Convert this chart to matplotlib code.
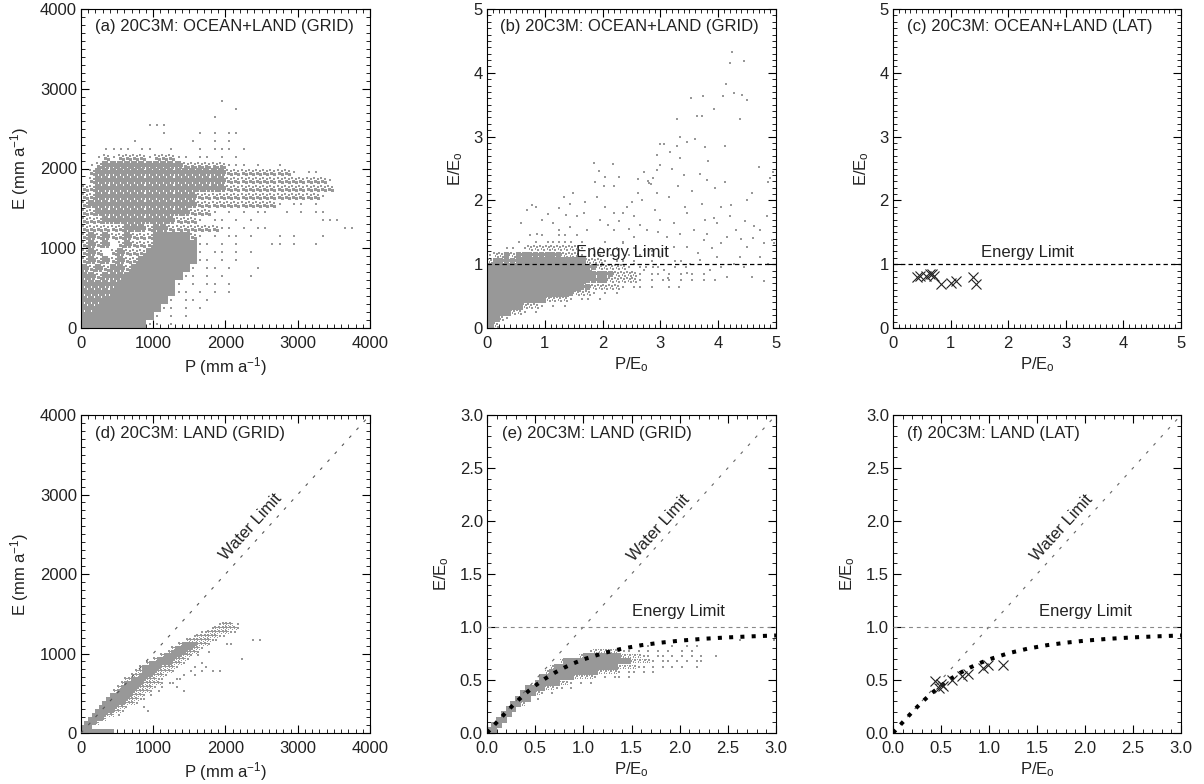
import matplotlib
matplotlib.use('Agg')
import matplotlib.pyplot as plt
from matplotlib.path import Path
from matplotlib.ticker import MultipleLocator, FormatStrFormatter

plt.rcParams['font.family'] = ['Liberation Sans', 'DejaVu Sans']
plt.rcParams['mathtext.fontset'] = 'custom'
plt.rcParams['mathtext.rm'] = 'Liberation Sans'
plt.rcParams['mathtext.it'] = 'Liberation Sans:italic'
plt.rcParams['mathtext.default'] = 'regular'

GRAY = '#989898'
INK = '#222222'

# point clouds read off the picture as occupancy maps
# '#' solid, '%' dense, '+' medium, 'o' sparse; first row is the top
# (a) P vs E, cells of 100 mm x 100 mm
A_ROWS = [
    "                   o",
    "                     o",
    "                  o",
    "         ooo",
    "           o    o o oo",
    "       o       o  o o",
    "   oooo oo  o   o ooo o",
    "  o+o++++o+++oo oo o o",
    " o+%%%%%%%%%%%++++++ooo o  o",
    " +%%%%%%%%%%%%%%%%%%+++++++++o oo",
    " +%%%%%%%%%%%%%%%%%%++++++++++++++o",
    "++%%%%%%%%%%%%%%%%%%+++++++++++++++",
    "++%%%%%%%%%%%%%%+++++++++++++++++o",
    "+%%%%%%%%%%%%%%%+++++++++++o oo o",
    "++%%%%%%%%%%%%%+++o o o oo  o o oo",
    "+++%%%%%%%%%%+++o oo o o         ooo",
    "++++++%%%+%%+++++++oo o oo          oo",
    "+%+%++%+++#####+o o oo o   o o   o",
    "+%+% +%+++######oo o o    oo o  o",
    "+%+ +%+++#######o oo o o",
    "+%+%+%++########oo o o",
    "%+%+%%+########o oo o   o",
    "%%+%%%########oo o o   o",
    "%%%%%########o o oo o",
    "%%%%#########oo o o o",
    "%%%#########o oo o",
    "%%#########oo o o",
    "##########o o o",
    "#########oo o",
]

# (b) P/Eo vs E/Eo, cells of 0.1 x 0.1
B_ROWS = [
    "       o o  oo o",
    "     o  o ooooo o   o  o",
    "   oo o+++++++++o oo  o  o",
    "o++%+%%%%%%%%+++o oo o  o o o",
    "+%%%%%###########+++o oo o  o   o",
    "#################%%+++++o oo o  o o",
    "##################%%%%++++o oo o o o o",
    "#################%%%%+++++o o oo o o   o",
    "#######%##%#####%%+++++o oo o  o",
    "##%####%######%+++o o o",
    "#%##%#####++++o oo o",
    "%#%###+++o o o",
    "####++o o",
    "##+o",
    "#+",
]
# scattered points of (b) outside the cloud
B_SCAT_X = [4.24, 4.20, 4.44, 4.13, 4.28, 4.41, 4.50, 4.08, 3.53, 3.74, 3.92, 3.64, 3.72, 4.38, 3.28,
            3.34, 3.46, 3.60, 3.00, 3.06, 4.12, 3.17, 3.28, 3.78, 3.34, 2.94, 1.85, 2.18, 3.00, 3.82,
            2.94, 2.88, 2.80, 2.78, 2.83, 2.61, 2.71, 1.94, 2.05, 2.29, 1.87, 2.03, 2.19, 3.31, 3.69,
            3.81, 3.95, 4.11, 4.70, 4.90, 4.86, 4.58, 4.49, 2.94, 2.62, 1.49, 1.33, 1.70, 1.44, 2.50,
            2.42, 0.78, 0.85, 3.43, 3.72, 4.04, 4.23, 2.19, 2.35, 3.46, 3.78, 3.92, 3.98, 1.56, 1.37,
            1.67, 0.69, 1.15, 1.24, 1.44, 1.73, 3.00, 3.23, 3.34, 3.58, 4.47, 4.73, 4.40, 4.61, 4.79,
            4.93, 0.58, 0.87, 2.54, 2.71, 2.88, 3.06, 3.14, 3.32, 3.46, 3.52, 3.69, 3.75, 3.86, 3.98,
            4.15, 4.27, 4.38, 4.58, 4.79, 4.73, 4.87, 4.96, 4.50, 4.04, 3.75, 3.23, 3.00, 2.71, 2.36,
            2.54, 2.19, 2.77, 3.11, 3.46, 3.81, 4.15, 4.30, 1.95, 2.10, 2.28, 2.55, 2.65, 2.90, 2.05,
            1.90, 2.68, 3.15, 3.55, 3.40, 3.20, 1.05, 0.95, 1.25, 2.45, 2.95, 3.65, 4.05, 4.45, 3.35,
            2.85, 3.90, 4.62, 4.85, 4.20, 4.95]
B_SCAT_Y = [4.33, 4.15, 4.18, 3.82, 3.69, 3.65, 3.57, 3.63, 3.60, 3.64, 3.43, 3.32, 3.32, 3.28, 3.28,
            3.00, 2.92, 2.96, 2.89, 2.88, 2.85, 2.76, 2.85, 2.83, 2.66, 2.71, 2.59, 2.57, 2.55, 2.62,
            2.48, 2.35, 2.27, 2.31, 2.25, 2.33, 2.45, 2.46, 2.37, 2.37, 2.29, 2.23, 2.22, 2.23, 2.42,
            2.32, 2.20, 2.29, 2.52, 2.35, 2.29, 2.12, 2.00, 2.11, 2.12, 2.12, 2.06, 1.98, 1.95, 1.98,
            1.90, 1.93, 1.90, 1.90, 1.95, 1.90, 1.93, 1.81, 1.81, 1.81, 1.70, 1.72, 1.64, 1.75, 1.77,
            1.81, 1.85, 1.64, 1.54, 1.59, 1.54, 1.69, 1.64, 1.48, 1.54, 1.67, 1.54, 1.39, 1.41, 1.33,
            1.38, 1.64, 1.48, 1.01, 0.91, 0.96, 0.91, 0.78, 0.65, 0.86, 1.01, 1.07, 0.75, 0.91, 1.12,
            0.80, 1.01, 1.12, 0.80, 0.73, 1.12, 1.01, 1.33, 1.27, 1.33, 1.38, 1.27, 1.12, 1.22, 1.33,
            1.43, 1.54, 1.54, 1.43, 1.27, 1.48, 1.43, 1.54, 1.70, 1.62, 1.68, 1.75, 1.62, 1.85, 1.90,
            2.05, 2.00, 2.05, 2.15, 2.40, 2.50, 1.78, 1.70, 1.88, 1.55, 1.50, 1.18, 0.95, 0.95, 1.05,
            1.20, 1.25, 1.60, 1.75, 1.75, 2.45]

# (c) zonal means
C_X = [0.41, 0.47, 0.58, 0.64, 0.67, 0.72, 0.84, 1.01, 1.10, 1.39, 1.44]
C_Y = [0.80, 0.81, 0.81, 0.84, 0.85, 0.81, 0.69, 0.70, 0.74, 0.80, 0.69]

# (d) land P vs E, cells of 50 mm x 50 mm
D_ROWS = [
    "                                      o+++ o",
    "                                    o++++++o",
    "                                 oo++++++oo",
    "                               o++++++oo",
    "                             +++++++oo         o o",
    "                           +####+++o    oo",
    "                         +#####++o",
    "                        +####+++o  o",
    "                      +#####++o o",
    "                    +#####+++o              o",
    "                  +######+++o    o",
    "                +#####++++o    o  o",
    "               ++####++++o    o  o  o o",
    "              ++####+++o    o  o",
    "            ++####+++oo   oo",
    "           +#####+++++o oo",
    "          +#####++++o o   o",
    "         +#####++++o o      o",
    "        ######+++o o",
    "       ######+++oo",
    "      ######+++o",
    "     #####++o    o",
    "    #####++o      o",
    "   ####++ o",
    "  ####+",
    " ###+",
    "###",
    "#########",
]

# (e) land P/Eo vs E/Eo, cells of 0.05 x 0.05
E_ROWS = [
    "                                                    o      o",
    "                                 o    o  o o",
    "                     o+++++ooo o o o o  o o",
    "                   +%######%++++oo oo o o o o  o",
    "               +%############%++++o oo o o oo",
    "             +#############++++oo o o o o  o",
    "            +##########++++o oo o o",
    "           %######++++o o oo o",
    "          #####++o o o",
    "        ####++oo o",
    "       ###+o o",
    "      ### o",
    "     ##+",
    "    ##",
    "   ##",
    "  ##",
    " ##",
    "##",
]

# (f) zonal means over land
F_X = [0.44, 0.48, 0.50, 0.52, 0.61, 0.72, 0.78, 0.94, 0.99, 1.15]
F_Y = [0.49, 0.42, 0.46, 0.44, 0.50, 0.54, 0.56, 0.61, 0.64, 0.64]

# Budyko curve, read at the dots
BUDYKO_X = [0.0, 0.1, 0.2, 0.3, 0.4, 0.5, 0.6, 0.7, 0.8, 0.9, 1.0, 1.2, 1.4, 1.6, 1.8, 2.0, 2.25, 2.5, 2.75, 3.0]
BUDYKO_Y = [0.0, 0.100, 0.198, 0.290, 0.373, 0.447, 0.511, 0.567, 0.616, 0.658, 0.694, 0.752, 0.795,
            0.828, 0.852, 0.871, 0.889, 0.902, 0.912, 0.920]


def speckle(centers, h):
    # marker glyph made of small squares inside a [-1, 1] cell
    verts = [(-1, -1), (1, 1)]
    codes = [Path.MOVETO, Path.MOVETO]
    for cx, cy in centers:
        verts += [(cx - h, cy - h), (cx + h, cy - h), (cx + h, cy + h), (cx - h, cy + h), (cx - h, cy - h)]
        codes += [Path.MOVETO, Path.LINETO, Path.LINETO, Path.LINETO, Path.CLOSEPOLY]
    return Path(verts, codes)


DENSE = speckle([(-0.55, 0.55), (0.2, 0.6), (0.6, 0.05), (-0.15, -0.05), (-0.6, -0.55), (0.35, -0.6)], 0.44)
MEDIUM = speckle([(-0.5, 0.5), (0.45, 0.3), (-0.15, -0.4), (0.6, -0.6)], 0.3)


def cells(rows, dx, dy):
    pts = {}
    n = len(rows)
    for i, row in enumerate(rows):
        for j, ch in enumerate(row):
            if ch == ' ':
                continue
            xs, ys = pts.setdefault(ch, ([], []))
            xs.append((j + 0.5) * dx)
            ys.append((n - 1 - i + 0.5) * dy)
    return pts


def draw_cloud(ax, rows, dx, dy, solid, cell):
    marks = {'#': ('s', solid), '%': (DENSE, cell), '+': (MEDIUM, cell), 'o': ('s', 1.7)}
    for ch, (xs, ys) in cells(rows, dx, dy).items():
        m, ms = marks[ch]
        ax.plot(xs, ys, linestyle='none', marker=m, ms=ms, mew=0, color=GRAY, zorder=2)


def style(ax, xmax, xmaj, xmin, ymax, ymaj, ymin, fmt=None):
    ax.set_xlim(0, xmax)
    ax.set_ylim(0, ymax)
    ax.xaxis.set_major_locator(MultipleLocator(xmaj))
    ax.xaxis.set_minor_locator(MultipleLocator(xmin))
    ax.yaxis.set_major_locator(MultipleLocator(ymaj))
    ax.yaxis.set_minor_locator(MultipleLocator(ymin))
    if fmt:
        ax.xaxis.set_major_formatter(FormatStrFormatter(fmt))
        ax.yaxis.set_major_formatter(FormatStrFormatter(fmt))
    ax.tick_params(which='both', direction='in', top=True, right=True,
                   labelsize=12, labelcolor=INK, color='black')
    ax.tick_params(which='major', length=6, width=0.8)
    ax.tick_params(which='minor', length=3, width=0.6)
    ax.tick_params(axis='x', pad=6)
    ax.tick_params(axis='y', pad=3)
    for s in ax.spines.values():
        s.set_linewidth(0.8)


def label(ax, text, x=0.048, y=0.945):
    ax.text(x, y, text, transform=ax.transAxes, fontsize=12, color=INK, ha='left', va='center')


fig = plt.figure(figsize=(12.04, 7.84), dpi=100)
W, H = 1204, 784


def box(l, r, t, b):
    return [l / W, 1 - b / H, (r - l) / W, (b - t) / H]


ax_a = fig.add_axes(box(81, 370, 9, 328))
ax_b = fig.add_axes(box(487, 776, 9, 328))
ax_c = fig.add_axes(box(893, 1181, 9, 328))
ax_d = fig.add_axes(box(81, 370, 415, 733))
ax_e = fig.add_axes(box(487, 776, 415, 733))
ax_f = fig.add_axes(box(893, 1181, 415, 733))

e_mm = r'E (mm a$^{-1}$)'
p_mm = r'P (mm a$^{-1}$)'
e_eo = r'E/E$_{o}$'
p_eo = r'P/E$_{o}$'

# (a)
draw_cloud(ax_a, A_ROWS, 100, 100, solid=6.2, cell=5.8)
style(ax_a, 4000, 1000, 100, 4000, 1000, 100)
label(ax_a, '(a) 20C3M: OCEAN+LAND (GRID)')

# (b)
draw_cloud(ax_b, B_ROWS, 0.1, 0.1, solid=5.6, cell=4.6)
ax_b.plot(B_SCAT_X, B_SCAT_Y, 's', ms=1.7, mew=0, color=GRAY, zorder=2)
ax_b.axhline(1.0, color='black', lw=0.9, dashes=(3.5, 2.5), zorder=3)
ax_b.text(2.34, 1.19, 'Energy Limit', fontsize=12, color=INK, ha='center', va='center', zorder=4)
style(ax_b, 5, 1, 0.1, 5, 1, 0.1)
label(ax_b, '(b) 20C3M: OCEAN+LAND (GRID)', x=0.045)

# (c)
ax_c.plot(C_X, C_Y, 'x', ms=7.5, mew=0.8, color=INK, zorder=3)
ax_c.axhline(1.0, color='black', lw=0.9, dashes=(3.5, 2.5), zorder=3)
ax_c.text(2.34, 1.19, 'Energy Limit', fontsize=12, color=INK, ha='center', va='center')
style(ax_c, 5, 1, 0.1, 5, 1, 0.1)
label(ax_c, '(c) 20C3M: OCEAN+LAND (LAT)')

# (d)
draw_cloud(ax_d, D_ROWS, 50, 50, solid=2.4, cell=2.9)
ax_d.plot([0, 4000], [0, 4000], color='#555555', lw=0.8, dashes=(2.7, 7.0), zorder=3)
ax_d.text(2350, 2590, 'Water Limit', fontsize=12, color=INK, rotation=47.7,
          rotation_mode='anchor', ha='center', va='center')
style(ax_d, 4000, 1000, 100, 4000, 1000, 100)
label(ax_d, '(d) 20C3M: LAND (GRID)', y=0.943)

# (e)
draw_cloud(ax_e, E_ROWS, 0.05, 0.05, solid=4.6, cell=3.8)
ax_e.plot([0, 3], [0, 3], color='#666666', lw=0.8, dashes=(2.7, 7.0), zorder=3)
ax_e.axhline(1.0, color='#888888', lw=0.8, dashes=(3.5, 3.5), zorder=3)
ax_e.plot(BUDYKO_X, BUDYKO_Y, color='black', lw=2.9, linestyle=(0, (1, 1.8)),
          dash_capstyle='butt', zorder=4)
ax_e.text(1.78, 1.93, 'Water Limit', fontsize=12, color=INK, rotation=47.7,
          rotation_mode='anchor', ha='center', va='center')
ax_e.text(1.99, 1.15, 'Energy Limit', fontsize=12, color=INK, ha='center', va='center')
style(ax_e, 3, 0.5, 0.1, 3, 0.5, 0.1, '%.1f')
label(ax_e, '(e) 20C3M: LAND (GRID)', x=0.052, y=0.943)

# (f)
ax_f.plot([0, 3], [0, 3], color='#666666', lw=0.8, dashes=(2.7, 7.0), zorder=3)
ax_f.axhline(1.0, color='#888888', lw=0.8, dashes=(3.5, 3.5), zorder=3)
ax_f.plot(BUDYKO_X, BUDYKO_Y, color='black', lw=2.9, linestyle=(0, (1, 1.8)),
          dash_capstyle='butt', zorder=4)
ax_f.plot(F_X, F_Y, 'x', ms=7.5, mew=0.8, color=INK, zorder=5)
ax_f.text(1.76, 1.93, 'Water Limit', fontsize=12, color=INK, rotation=47.7,
          rotation_mode='anchor', ha='center', va='center')
ax_f.text(2.0, 1.15, 'Energy Limit', fontsize=12, color=INK, ha='center', va='center')
style(ax_f, 3, 0.5, 0.1, 3, 0.5, 0.1, '%.1f')
label(ax_f, '(f) 20C3M: LAND (LAT)', y=0.943)

for ax in (ax_a, ax_d):
    ax.set_xlabel(p_mm, fontsize=12, color=INK, labelpad=3)
    ax.set_ylabel(e_mm, fontsize=12, color=INK, labelpad=6)
for ax in (ax_b, ax_c, ax_e, ax_f):
    ax.set_xlabel(p_eo, fontsize=12, color=INK, labelpad=3)
    ax.set_ylabel(e_eo, fontsize=12, color=INK, labelpad=6)

fig.savefig('out.png', dpi=100)
